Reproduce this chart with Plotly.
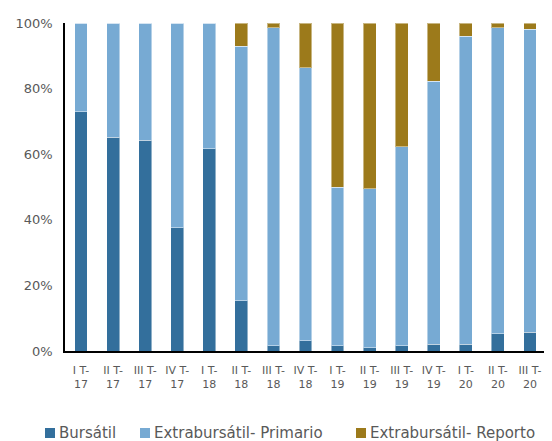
import plotly.graph_objects as go

categories = ["I T-<br>17", "II T-<br>17", "III T-<br>17", "IV T-<br>17",
              "I T-<br>18", "II T-<br>18", "III T-<br>18", "IV T-<br>18",
              "I T-<br>19", "II T-<br>19", "III T-<br>19", "IV T-<br>19",
              "I T-<br>20", "II T-<br>20", "III T-<br>20"]

bursatil = [72.9, 65.1, 64.2, 37.6, 61.6, 15.3, 1.6, 3.1, 1.6, 1.0, 1.6, 2.1, 2.1, 5.2, 5.7]
primario = [27.1, 34.9, 35.8, 62.4, 38.4, 77.6, 96.9, 83.2, 48.4, 48.4, 60.6, 80.1, 93.9, 93.3, 92.4]
reporto = [0.0, 0.0, 0.0, 0.0, 0.0, 7.1, 1.5, 13.7, 50.0, 50.6, 37.8, 17.8, 4.0, 1.5, 1.9]

y_ticks = [0, 20, 40, 60, 80, 100]
y_tick_labels = ["0%", "20%", "40%", "60%", "80%", "100%"]

series_names = ["Bursátil", "Extrabursátil- Primario", "Extrabursátil- Reporto"]
series_values = [bursatil, primario, reporto]
series_colors = ["#336f9c", "#77aad3", "#9c7a1b"]

# figure geometry (page body has an 8px default margin)
W, H = 544, 433
ML, MR, MT, MB = 57, 6, 15, 90
PW, PH = W - ML - MR, H - MT - MB
OFF = 8


def px(xw, yw):
    """window pixel -> paper coords"""
    return (xw - OFF - ML) / PW, (H - MB - (yw - OFF)) / PH


fig = go.Figure()
for name, vals, color in zip(series_names, series_values, series_colors):
    fig.add_trace(go.Bar(
        x=categories, y=vals, name=name, showlegend=False,
        marker=dict(color=color, line=dict(color="rgba(255,255,255,0.45)", width=1)),
    ))

# custom legend (square swatch + text) to match the compact reference spacing
legend_square_x = [45, 140, 356]
legend_text_x = [57, 152, 368]
legend_yc = 433
shapes, annotations = [], []
for name, color, sx, tx in zip(series_names, series_colors, legend_square_x, legend_text_x):
    x0, y0 = px(sx, legend_yc + 5)
    x1, y1 = px(sx + 10, legend_yc - 5)
    shapes.append(dict(type="rect", xref="paper", yref="paper", x0=x0, x1=x1, y0=y0, y1=y1,
                       fillcolor=color, line=dict(width=0)))
    ax, ay = px(tx, legend_yc)
    annotations.append(dict(text=name, xref="paper", yref="paper", x=ax, y=ay,
                            xanchor="left", yanchor="middle", showarrow=False,
                            font=dict(size=15, color="#595959")))

font_family = "DejaVu Sans, Verdana, sans-serif"
fig.update_layout(
    barmode="stack",
    bargap=0.6,
    width=W, height=H,
    margin=dict(l=ML, r=MR, t=MT, b=MB),
    paper_bgcolor="white", plot_bgcolor="white",
    font=dict(family=font_family, color="#595959", size=13),
    showlegend=False,
    shapes=shapes,
    annotations=annotations,
    xaxis=dict(showline=True, linecolor="black", linewidth=1.5, ticks="",
               tickfont=dict(size=11, color="#595959"), showgrid=False,
               ticklabelstandoff=8),
    yaxis=dict(range=[0, 100], tickvals=y_ticks, ticktext=y_tick_labels,
               showline=True, linecolor="black", linewidth=1.5, showgrid=False,
               zeroline=False, ticks="", tickfont=dict(size=13, color="#595959"),
               ticklabelstandoff=8),
)

fig.write_html("out.html")
